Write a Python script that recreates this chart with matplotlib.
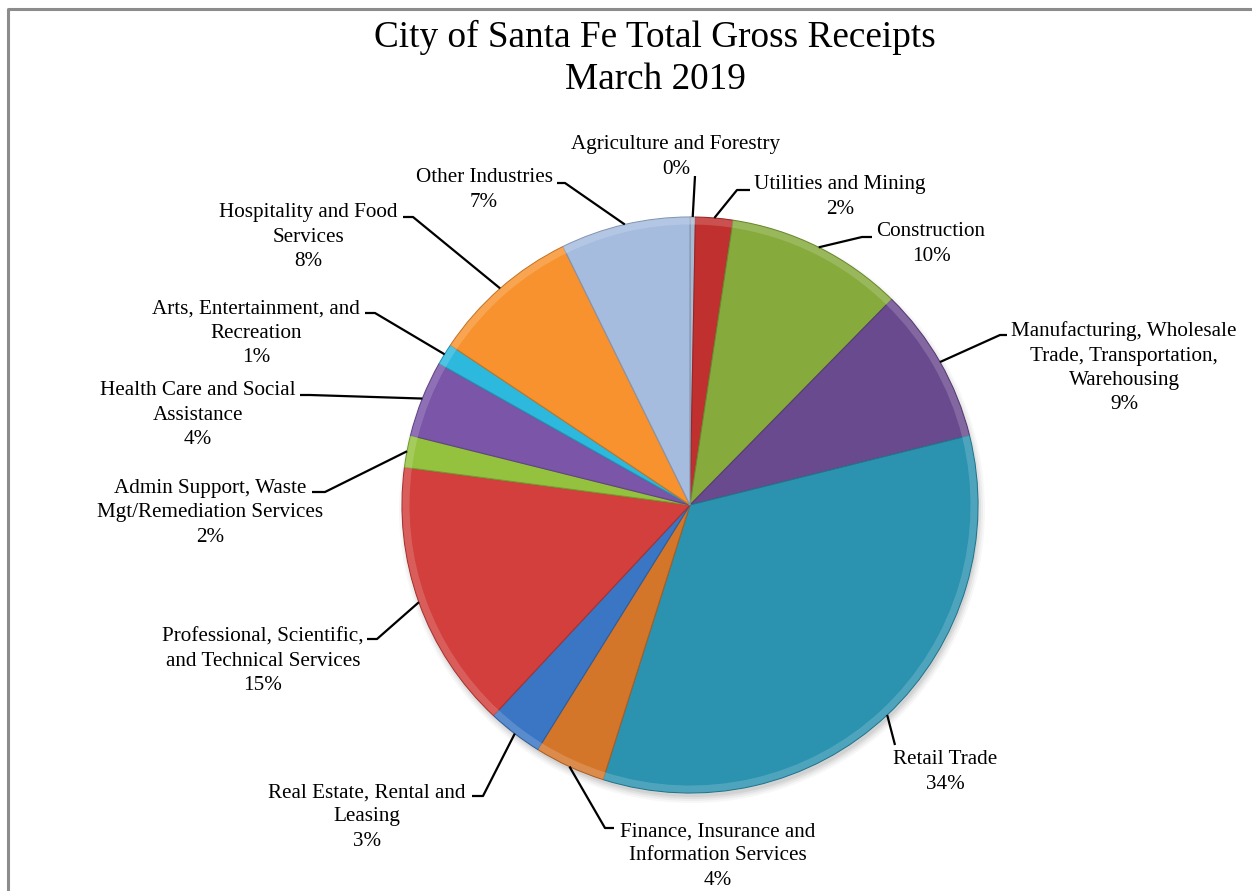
import numpy as np
import matplotlib
matplotlib.use("Agg")
import matplotlib.pyplot as plt
from matplotlib.patches import Wedge, Circle
import matplotlib.colors as mcolors

plt.rcParams['font.family'] = ['Liberation Serif', 'DejaVu Serif']

# ---------------- data ----------------
categories = [
    "Agriculture and Forestry",
    "Utilities and Mining",
    "Construction",
    "Manufacturing, Wholesale\nTrade, Transportation,\nWarehousing",
    "Retail Trade",
    "Finance, Insurance and\nInformation Services",
    "Real Estate, Rental and\nLeasing",
    "Professional, Scientific,\nand Technical Services",
    "Admin Support, Waste\nMgt/Remediation Services",
    "Health Care and Social\nAssistance",
    "Arts, Entertainment, and\nRecreation",
    "Hospitality and Food\nServices",
    "Other Industries",
]
shares = [0.3, 2.1, 10.0, 8.8, 33.9, 4.0, 3.1, 15.2, 1.8, 4.3, 1.2, 8.4, 7.3]
pct_labels = ["0%", "2%", "10%", "9%", "34%", "4%", "3%", "15%", "2%", "4%", "1%", "8%", "7%"]
colors = ["#A9B9D2", "#C0302E", "#86AA3C", "#6A4A8F", "#2B93AF", "#D4762A",
          "#3A76C4", "#D23F3C", "#94C13E", "#7A55A8", "#2DB8DD", "#F7922E", "#A5BCDF"]

title = "City of Santa Fe Total Gross Receipts\nMarch 2019"

# ---------------- layout (pixel coords, y downward) ----------------
W, H = 1252, 891
text_pos = [(676, 157), (840, 197), (931, 244), (1124, 368), (945, 772), (718, 856),
            (367, 817), (263, 661), (210, 513), (198, 415), (256, 333), (308, 237), (484, 190)]
elbows = [None, (737, 190), (862, 237), (1000, 335), None, (605, 828),
          (483, 796), (377, 639), (325, 492), (310, 395), (375, 313), (413, 217), (565, 183)]
ends = [(695, 176), (750, 190), (872, 237), (1007, 335), (895, 745), (614, 828),
        (472, 796), (367, 639), (312, 492), (300, 395), (365, 313), (403, 217), (557, 183)]

cx, cy, R = 690, 505, 288

def P(x, y):
    return (x, H - y)

fig = plt.figure(figsize=(W / 100, H / 100), dpi=100)
ax = fig.add_axes([0, 0, 1, 1])

# frame (left and top edges visible)
ax.plot([7.5, 7.5, W + 5], [-5, H - 8.5, H - 8.5], color="#8C8C8C", lw=2.2,
        solid_capstyle='butt', zorder=1)

# soft shadow
for k, a in enumerate([0.03, 0.04, 0.05, 0.06]):
    ax.add_patch(Circle(P(cx + 2, cy + 5), R + 5 - 2 * k, color="black", alpha=a,
                        lw=0, zorder=2))

center = P(cx, cy)
wedges, _ = ax.pie(shares, colors=colors, startangle=90, counterclock=False,
                   center=center, radius=R, frame=True)
ax.set_xlim(0, W)
ax.set_ylim(0, H)
ax.set_aspect('equal')
ax.axis('off')

# bevel-like effect: darker edges and a subtle lighter rim
for w, c in zip(wedges, colors):
    w.set_zorder(3)
    rgb = np.array(mcolors.to_rgb(c))
    light = tuple(np.clip(rgb + (1 - rgb) * 0.30, 0, 1))
    dark = tuple(rgb * 0.8)
    w.set_edgecolor(dark)
    w.set_linewidth(0.8)
    rim = Wedge(center, R - 0.5, w.theta1, w.theta2, width=7, facecolor=light,
                edgecolor='none', alpha=0.55, zorder=4)
    ax.add_patch(rim)

# labels with leader lines
for i, w in enumerate(wedges):
    mid = np.deg2rad((w.theta1 + w.theta2) / 2)
    ex = center[0] + R * np.cos(mid)
    ey = center[1] + R * np.sin(mid)
    xs, ys = [ex], [ey]
    if elbows[i] is not None:
        px, py = P(*elbows[i])
        xs.append(px); ys.append(py)
    px, py = P(*ends[i])
    xs.append(px); ys.append(py)
    ax.plot(xs, ys, color="black", lw=1.6, zorder=6, solid_capstyle='butt')
    tx, ty = P(*text_pos[i])
    ax.text(tx, ty, categories[i] + "\n" + pct_labels[i], ha='center', va='center',
            fontsize=15.2, linespacing=1.38, zorder=7)

tx, ty = P(655, 58)
ax.text(tx, ty, title, ha='center', va='center', fontsize=26.8, linespacing=1.28)

fig.savefig("out.png", dpi=100)
